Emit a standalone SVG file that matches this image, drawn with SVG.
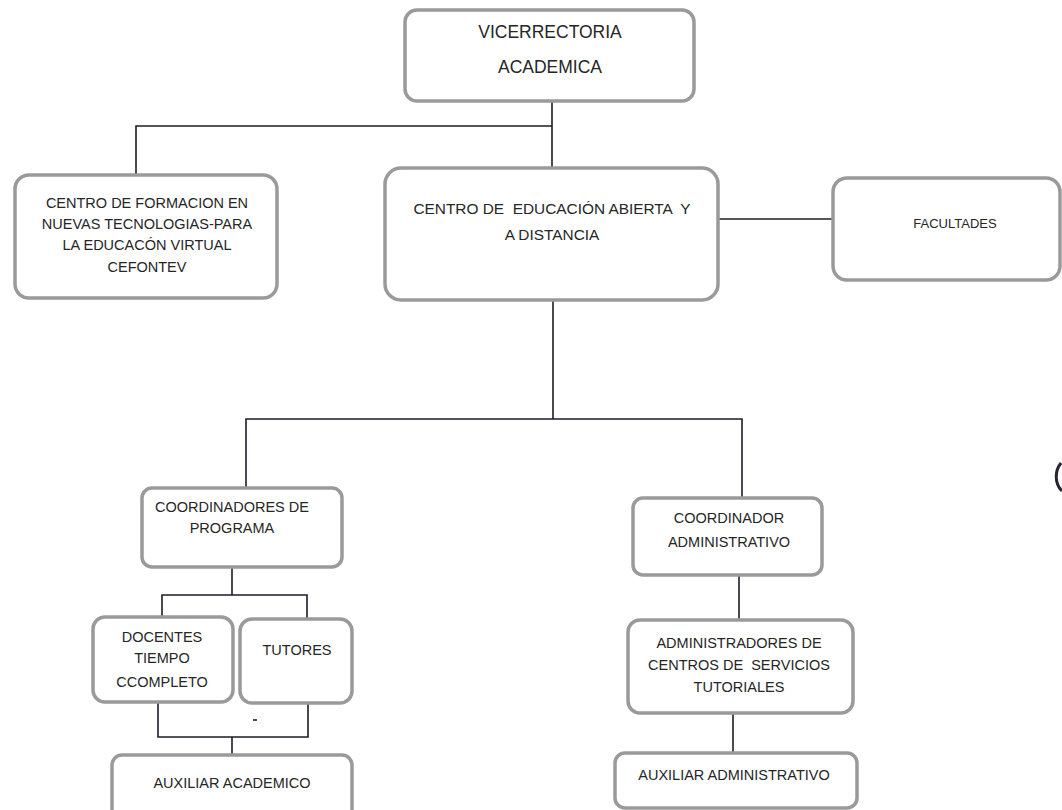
<svg xmlns="http://www.w3.org/2000/svg" width="1062" height="810" viewBox="0 0 1062 810">
  <style>
    .box { fill: #ffffff; stroke: #9a9a9a; stroke-width: 3.5; }
    .t { font-family: "Liberation Sans", Arial, sans-serif; font-size: 14.5px; fill: #262626; text-anchor: middle; dominant-baseline: central; white-space: pre; }
    .big { font-size: 17.5px; }
    .mid { font-size: 15.4px; }
    .sm { font-size: 13px; }
    .conn { stroke: #1c1c28; stroke-width: 1.6; fill: none; }
  </style>
  <rect x="0" y="0" width="1062" height="810" fill="#ffffff"/>

  <g id="connectors" class="conn">
    <path d="M552,101 V167"/>
    <path d="M136,175 V126 H552"/>
    <path d="M718,219 H833"/>
    <path d="M553,300 V419"/>
    <path d="M246,488 V419 H742 V498"/>
    <path d="M232,567 V595"/>
    <path d="M162,617 V595 H307 V619"/>
    <path d="M158,702 V737 H308 V703"/>
    <path d="M232,737 V755"/>
    <path d="M739,575 V620"/>
    <path d="M733,713 V753"/>
    <path d="M253,720 H257"/>
  </g>

  <g id="vicerrectoria">
    <rect class="box" x="405" y="10" width="289" height="91" rx="12"/>
    <text class="t big" x="550" y="32">VICERRECTORIA</text>
    <text class="t big" x="550" y="67">ACADEMICA</text>
  </g>

  <g id="cefontev">
    <rect class="box" x="15" y="175" width="262" height="123" rx="14"/>
    <text class="t" x="147" y="203">CENTRO DE FORMACION EN</text>
    <text class="t" x="147" y="224">NUEVAS TECNOLOGIAS-PARA</text>
    <text class="t" x="147" y="245">LA EDUCACÓN VIRTUAL</text>
    <text class="t" x="147" y="267">CEFONTEV</text>
  </g>

  <g id="cead">
    <rect class="box" x="385" y="168" width="333" height="132" rx="16"/>
    <text class="t mid" x="552" y="208">CENTRO DE  EDUCACIÓN ABIERTA  Y</text>
    <text class="t mid" x="552" y="234">A DISTANCIA</text>
  </g>

  <g id="facultades">
    <rect class="box" x="833" y="178" width="227" height="102" rx="14"/>
    <text class="t sm" x="955" y="223">FACULTADES</text>
  </g>

  <g id="coordinadores-programa">
    <rect class="box" x="142" y="488" width="200" height="79" rx="10"/>
    <text class="t" x="232" y="507">COORDINADORES DE</text>
    <text class="t" x="232" y="528">PROGRAMA</text>
  </g>

  <g id="docentes">
    <rect class="box" x="93" y="617" width="140" height="85" rx="12"/>
    <text class="t" x="162" y="637">DOCENTES</text>
    <text class="t" x="162" y="658">TIEMPO</text>
    <text class="t" x="162" y="682">CCOMPLETO</text>
  </g>

  <g id="tutores">
    <rect class="box" x="240" y="619" width="112" height="84" rx="12"/>
    <text class="t" x="297" y="650">TUTORES</text>
  </g>

  <g id="auxiliar-academico">
    <rect class="box" x="112" y="755" width="240" height="70" rx="10"/>
    <text class="t" x="232" y="783">AUXILIAR ACADEMICO</text>
  </g>

  <g id="coordinador-administrativo">
    <rect class="box" x="633" y="498" width="189" height="77" rx="10"/>
    <text class="t" x="729" y="518">COORDINADOR</text>
    <text class="t" x="729" y="542">ADMINISTRATIVO</text>
  </g>

  <g id="administradores-centros">
    <rect class="box" x="628" y="620" width="225" height="93" rx="12"/>
    <text class="t" x="739" y="643">ADMINISTRADORES DE</text>
    <text class="t" x="739" y="665">CENTROS DE  SERVICIOS</text>
    <text class="t" x="739" y="687">TUTORIALES</text>
  </g>

  <g id="auxiliar-administrativo">
    <rect class="box" x="615" y="753" width="242" height="55" rx="10"/>
    <text class="t" x="734" y="775">AUXILIAR ADMINISTRATIVO</text>
  </g>

  <path d="M1061,463 C1055,470 1054,483 1062,491" stroke="#2a2235" stroke-width="3" fill="none"/>
</svg>
